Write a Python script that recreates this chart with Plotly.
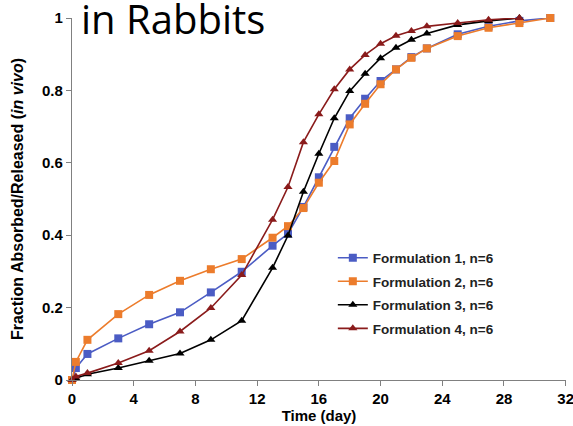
import plotly.graph_objects as go

time_days = [0, 0.25, 1, 3, 5, 7, 9, 11, 13, 14, 15, 16, 17, 18, 19, 20, 21, 22, 23, 25, 27, 29, 31]
formulation1 = [0, 0.033, 0.072, 0.115, 0.154, 0.187, 0.242, 0.299, 0.371, 0.404, 0.478, 0.56, 0.644,
                0.723, 0.777, 0.826, 0.858, 0.892, 0.916, 0.955, 0.977, 0.992, 1.0]
formulation2 = [0, 0.05, 0.111, 0.182, 0.235, 0.274, 0.306, 0.334, 0.393, 0.425, 0.475, 0.545, 0.605,
                0.706, 0.763, 0.817, 0.858, 0.89, 0.916, 0.95, 0.973, 0.986, 1.0]
formulation3 = [0, 0.005, 0.016, 0.033, 0.053, 0.073, 0.111, 0.164, 0.31, 0.399, 0.52, 0.625, 0.723,
                0.798, 0.846, 0.889, 0.918, 0.94, 0.957, 0.981, 0.992, 1.0]
formulation4 = [0, 0.01, 0.019, 0.047, 0.081, 0.134, 0.199, 0.29, 0.443, 0.533, 0.657, 0.734, 0.803,
                0.858, 0.898, 0.929, 0.951, 0.964, 0.977, 0.986, 0.995, 1.0]

x_ticks = [0, 4, 8, 12, 16, 20, 24, 28, 32]
y_ticks = [0, 0.2, 0.4, 0.6, 0.8, 1]

names = ["Formulation 1, n=6", "Formulation 2, n=6", "Formulation 3, n=6", "Formulation 4, n=6"]
series = [formulation1, formulation2, formulation3, formulation4]
colors = ["#4B5CC4", "#EC7C2C", "#000000", "#8A1B1B"]
symbols = ["square", "square", "triangle-up", "triangle-up"]

fig = go.Figure()
for i, (nm, ys, c, s) in enumerate(zip(names, series, colors, symbols)):
    fig.add_trace(go.Scatter(
        x=time_days[:len(ys)], y=ys, name=nm, mode="lines+markers",
        line=dict(color=c, width=1.6),
        marker=dict(symbol=s, size=8, color=c),
        legendgroup=f"g{i}", cliponaxis=False,
    ))

font_b = "Liberation Sans, Arial, sans-serif"
fig.update_layout(
    width=573, height=426,
    margin=dict(l=72, r=7, t=18, b=46, autoexpand=False),
    paper_bgcolor="white", plot_bgcolor="white",
    font=dict(family=font_b, color="black"),
    showlegend=True,
    legend=dict(x=0.528, y=0.380, xanchor="left", yanchor="top",
                bgcolor="rgba(0,0,0,0)", tracegroupgap=3,
                font=dict(family=font_b, size=13.5, color="#222", weight="bold"),
                itemwidth=30),
    xaxis=dict(range=[0, 32.02], tickvals=x_ticks, automargin=False,
               ticklabeloverflow="allow",
               showgrid=False, zeroline=False, showline=True, linecolor="#808080", linewidth=1.2,
               ticks="outside", ticklen=5, tickcolor="#808080",
               tickfont=dict(size=15, family=font_b, weight="bold"),
               title=dict(text="<b>Time (day)</b>", font=dict(size=15), standoff=2)),
    yaxis=dict(range=[0, 1], tickvals=y_ticks, automargin=False,
               ticklabeloverflow="allow",
               showgrid=False, zeroline=False, showline=True, linecolor="#808080", linewidth=1.2,
               ticks="outside", ticklen=5, tickcolor="#808080",
               tickfont=dict(size=15, family=font_b, weight="bold"),
               title=dict(text="<b>Fraction Absorbed/Released (<i>in vivo</i>)</b>",
                          font=dict(size=16), standoff=14)),
    annotations=[dict(text="in Rabbits", xref="paper", yref="paper", x=0.014, y=0.999,
                      xanchor="left", yanchor="middle", showarrow=False,
                      font=dict(family="Open Sans, sans-serif", size=40, color="black"))],
)

fig.write_html("out.html", config={"displayModeBar": False},
               post_script="document.body.style.margin='0';")
